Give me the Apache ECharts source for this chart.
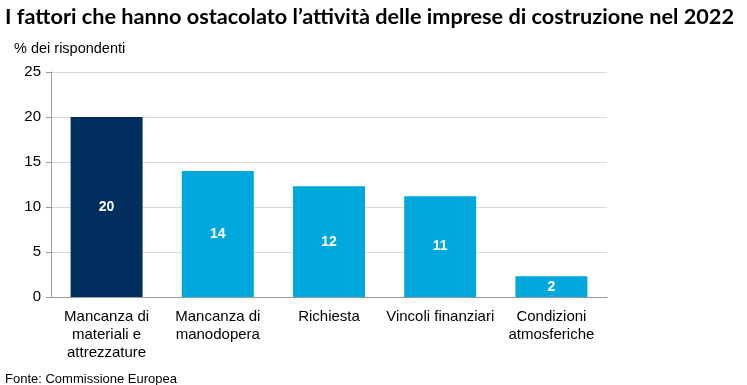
<!DOCTYPE html>
<html><head><meta charset="utf-8">
<script src="https://cdn.jsdelivr.net/npm/echarts@6/dist/echarts.min.js"></script>
<style>html,body{margin:0;padding:0;background:#fff}#c{width:747px;height:385px}</style>
</head><body><div id="c"></div>
<script>
const categories = ["Mancanza di\nmateriali e\nattrezzature", "Mancanza di\nmanodopera", "Richiesta", "Vincoli finanziari", "Condizioni\natmosferiche"];
const values = [20, 14, 12.3, 11.2, 2.3];
const labels = ["20", "14", "12", "11", "2"];
const barColors = ["#002F5F", "#00A8DC", "#00A8DC", "#00A8DC", "#00A8DC"];
const yTicks = [0, 5, 10, 15, 20, 25];

const sans = '"Liberation Sans", Arial, sans-serif';
const chart = echarts.init(document.getElementById('c'), null, {renderer: 'canvas'});
chart.setOption({
  animation: false,
  title: [
    {text: "I fattori che hanno ostacolato l’attività delle imprese di costruzione nel 2022", left: 0, top: 1,
     textStyle: {fontFamily: 'Lato, "Open Sans", sans-serif', fontWeight: 'bold', fontSize: 21.7, color: '#000'}},
    {text: "% dei rispondenti", left: 9, top: 36,
     textStyle: {fontFamily: sans, fontWeight: 'normal', fontSize: 14.5, color: '#000'}},
    {text: "Fonte: Commissione Europea", left: 0, top: 368,
     textStyle: {fontFamily: sans, fontWeight: 'normal', fontSize: 13, color: '#000'}}
  ],
  grid: {left: 51, right: 140, top: 72, bottom: 88, containLabel: false},
  xAxis: {
    type: 'category', data: categories,
    axisLine: {lineStyle: {color: '#999'}},
    axisTick: {show: false},
    axisLabel: {interval: 0, fontFamily: sans, fontSize: 15, color: '#000', lineHeight: 18, margin: 11}
  },
  yAxis: {
    type: 'value', min: 0, max: 25, interval: 5,
    axisLine: {show: true, lineStyle: {color: '#999'}},
    axisTick: {show: true, length: 5, lineStyle: {color: '#999'}},
    axisLabel: {fontFamily: sans, fontSize: 15, color: '#000', margin: 10,
      formatter: v => yTicks.includes(v) ? String(v) : ''},
    splitLine: {lineStyle: {color: '#d9d9d9'}}
  },
  series: [{
    type: 'bar', barWidth: 72,
    data: values.map((v, i) => ({value: v, itemStyle: {color: barColors[i]},
      label: {formatter: labels[i]}})),
    label: {show: true, position: 'inside', color: '#fff', fontWeight: 'bold',
      fontFamily: sans, fontSize: 14}
  }]
});
</script></body></html>
